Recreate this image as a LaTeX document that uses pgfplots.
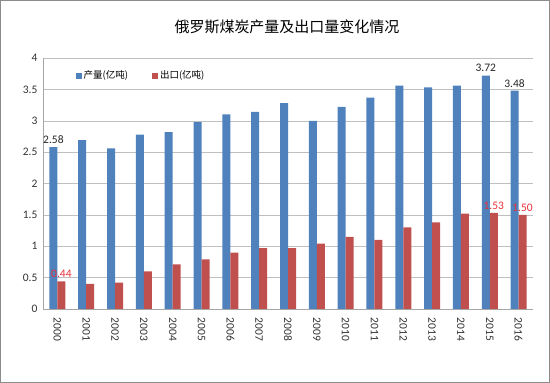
\documentclass[border=0pt]{standalone}
\usepackage{pgfplots}
\pgfplotsset{compat=1.18}
\usepackage{pgfplotstable}
\usepackage{fontspec}
\setmainfont{Carlito}
\newfontfamily\cjk{Noto Sans CJK SC}
\definecolor{cblue}{HTML}{4F81BD}
\definecolor{cred}{HTML}{C0504D}
\definecolor{lred}{HTML}{E8303A}
\pgfplotstableread{
x prod plbl exp elbl
0 2.58 2.58 0.44 0.44
1 2.69 {} 0.40 {}
2 2.56 {} 0.42 {}
3 2.78 {} 0.60 {}
4 2.82 {} 0.71 {}
5 2.98 {} 0.79 {}
6 3.10 {} 0.90 {}
7 3.14 {} 0.97 {}
8 3.28 {} 0.97 {}
9 3.00 {} 1.04 {}
10 3.22 {} 1.15 {}
11 3.37 {} 1.10 {}
12 3.56 {} 1.30 {}
13 3.53 {} 1.38 {}
14 3.56 {} 1.52 {}
15 3.72 3.72 1.53 1.53
16 3.48 3.48 1.50 1.50
}\data
\begin{document}
\begin{tikzpicture}
\path[use as bounding box] (0pt,0pt) rectangle (550pt,383pt);
\draw[black!45] (0.5pt,0.5pt) rectangle (549.5pt,382.5pt);
\node[font=\cjk\fontsize{15}{17}\selectfont] at (287pt,356pt) {俄罗斯煤炭产量及出口量变化情况};
\begin{axis}[
  at={(43pt,74pt)}, anchor=south west,
  width=490pt, height=251pt, scale only axis,
  ybar=0pt, bar width=8pt,
  xmin=-0.5, xmax=16.5, ymin=0, ymax=4,
  ytick={0,0.5,...,4},
  xtick={0,...,16},
  xticklabels={2000,2001,2002,2003,2004,2005,2006,2007,2008,2009,2010,2011,2012,2013,2014,2015,2016},
  xticklabel shift=5pt,
  x tick label style={rotate=-90, anchor=west, font=\fontsize{11.5}{13}\selectfont, black!80},
  y tick label style={font=\fontsize{11.5}{13}\selectfont, black!80},
  yticklabel shift=2pt,
  /pgf/number format/assume math mode=true,
  ymajorgrids, grid style={black!25},
  axis x line*=bottom, axis y line*=left,
  axis line style={black!35},
  major tick length=0pt,
  legend style={at={(0.06,0.93)}, anchor=west, draw=none, fill=none,
    legend columns=2, font=\cjk\fontsize{9.5}{11}\selectfont,
    /tikz/every even column/.append style={column sep=22pt}},
  legend image code/.code={\fill[#1] (0pt,-3pt) rectangle (6pt,3pt);},
]
\addplot[fill=cblue, draw=none, point meta=explicit symbolic, nodes near coords,
  every node near coord/.append style={font=\fontsize{11.5}{13}\selectfont, black!85}]
  table[x=x, y=prod, meta=plbl] {\data};
\addlegendentry{产量(亿吨)}
\addplot[fill=cred, draw=none, point meta=explicit symbolic, nodes near coords,
  every node near coord/.append style={font=\fontsize{11.5}{13}\selectfont, lred}]
  table[x=x, y=exp, meta=elbl] {\data};
\addlegendentry{出口(亿吨)}
\end{axis}
\end{tikzpicture}
\end{document}
